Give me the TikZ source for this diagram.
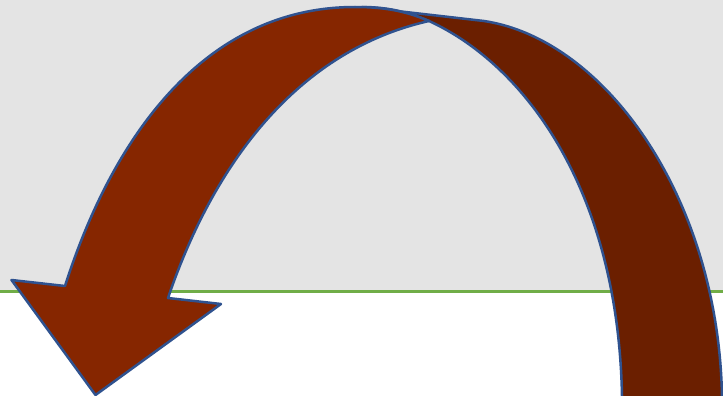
\documentclass[tikz,border=0pt]{standalone}
\definecolor{bggray}{HTML}{E4E4E4}
\definecolor{gline}{HTML}{70AD47}
\definecolor{frontred}{HTML}{862600}
\definecolor{backred}{HTML}{6B1F00}
\definecolor{edgeblue}{HTML}{2F528F}
\tikzset{
  bandedge/.style={draw=edgeblue, line width=2.5pt, line join=round},
  frontband/.style={bandedge, fill=frontred},
  backband/.style={bandedge, fill=backred}
}
\begin{document}
\begin{tikzpicture}[x=1pt,y=-1pt]
\useasboundingbox (0,0) rectangle (723,396);
\clip (0,0) rectangle (723,396);
% background
\fill[white] (0,0) rectangle (723,396);
\fill[bggray] (0,0) rectangle (723,291);
\draw[gline, line width=3pt] (0,291) -- (723,291);
% back (dark) band
\coordinate (J) at (429,21);
\path[backband] (362,7) -- (484,21)
  .. controls (604,39) and (718,196) .. (722,396) -- (722,410)
  -- (622,410) -- (622,396)
  .. controls (618,190) and (525,65) .. (J)
  .. controls (410,13) and (390,7) .. (362,7) -- cycle;
% front band with arrowhead
\path[frontband] (65,286)
  .. controls (113,136) and (205,7) .. (355,7)
  .. controls (390,7) and (410,13) .. (J)
  .. controls (300,50) and (215,160) .. (168,298)
  -- (221,304) -- (95.5,395) -- (11.5,280) -- cycle;
\end{tikzpicture}
\end{document}
